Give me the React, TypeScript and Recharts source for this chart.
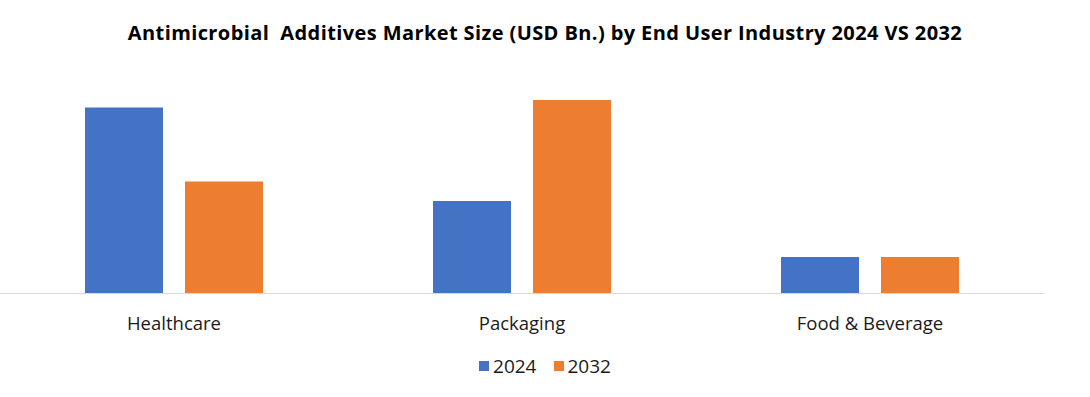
import { BarChart, Bar, XAxis, YAxis, Legend } from 'recharts'

const industries = ['Healthcare', 'Packaging', 'Food & Beverage']
const values2024 = [1.86, 0.925, 0.365]
const values2032 = [1.12, 1.935, 0.365]
const seriesNames = ['2024', '2032']
const seriesColors = ['#4472C4', '#ED7D31']

const data = industries.map((name, i) => ({
  name,
  '2024': values2024[i],
  '2032': values2032[i],
}))

const font = '"Open Sans", sans-serif'

function LegendContent() {
  return (
    <div style={{ display: 'flex', justifyContent: 'center', alignItems: 'center', fontFamily: font, fontSize: 19, color: '#1a1a1a' }}>
      {seriesNames.map((s, i) => (
        <div key={s} style={{ display: 'flex', alignItems: 'center', marginRight: i === 0 ? 17 : 0 }}>
          <span style={{ width: 10, height: 10, background: seriesColors[i], display: 'inline-block', marginRight: 4 }} />
          <span>{s}</span>
        </div>
      ))}
    </div>
  )
}

export default function App() {
  return (
    <div style={{ position: 'absolute', left: 0, top: 0, width: 1090, height: 397, background: '#fff' }}>
      <div
        style={{
          position: 'absolute',
          top: 19,
          left: 0,
          width: 1090,
          textAlign: 'center',
          fontFamily: font,
          fontWeight: 700,
          fontSize: 20,
          letterSpacing: 0.4,
          color: '#000',
          lineHeight: '28px',
        }}
      >
        Antimicrobial&nbsp; Additives Market Size (USD Bn.) by End User Industry 2024 VS 2032
      </div>
      <BarChart
        width={1090}
        height={397}
        data={data}
        margin={{ top: 93.5, right: 46, bottom: 73.5, left: 0 }}
        barSize={78}
        barGap={22}
      >
        <XAxis
          dataKey="name"
          axisLine={{ stroke: '#d9d9d9', strokeWidth: 1 }}
          tickLine={false}
          tickMargin={17}
          height={30}
          tick={{ fontSize: 18.5, fill: '#1a1a1a', fontFamily: font }}
          interval={0}
        />
        <YAxis hide domain={[0, 2]} />
        <Legend
          verticalAlign="middle"
          align="center"
          content={<LegendContent />}
          wrapperStyle={{ top: 353, left: 0, width: 1090 }}
        />
        {seriesNames.map((s, i) => (
          <Bar key={s} dataKey={s} fill={seriesColors[i]} isAnimationActive={false} />
        ))}
      </BarChart>
    </div>
  )
}
